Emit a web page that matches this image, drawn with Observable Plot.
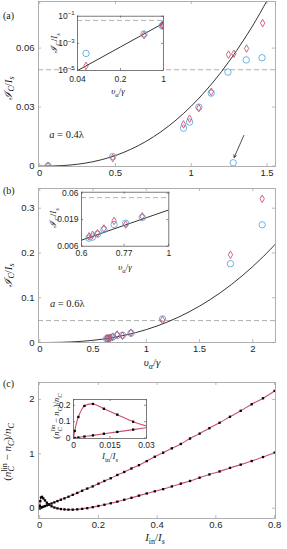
<!DOCTYPE html>
<html><head><meta charset="utf-8">
<script src="https://cdn.jsdelivr.net/npm/d3@7"></script>
<script src="https://cdn.jsdelivr.net/npm/@observablehq/plot@0.6"></script>
<style>
body{margin:0;background:#fff}
#root{position:relative;width:287px;height:549px;overflow:hidden;background:#fff}
#root svg{position:absolute;overflow:visible;max-width:none}
</style></head><body><div id="root"></div>
<script>
// ---------- Panel (a) data ----------
const aCircX = [0.055, 0.482, 0.949, 0.989, 1.05, 1.132, 1.242, 1.277, 1.363, 1.467];
const aCircY = [0.00018, 0.0049, 0.0193, 0.0224, 0.0300, 0.0371, 0.0478, 0.0017, 0.0540, 0.0551];
const aDiamX = [0.055, 0.482, 0.949, 0.989, 1.05, 1.132, 1.246, 1.281, 1.365, 1.471];
const aDiamY = [0.000022, 0.0041, 0.0212, 0.0241, 0.0295, 0.0378, 0.0567, 0.0571, 0.0598, 0.0727];
const aFitX = [0, 0.1, 0.2, 0.3, 0.4, 0.5, 0.6, 0.7, 0.8, 0.9, 1.0, 1.1, 1.2, 1.3, 1.4, 1.5, 1.55];
const aFitY = [0, 0.0000965, 0.000546, 0.0015, 0.00309, 0.00539, 0.0085, 0.0125, 0.01746, 0.02344, 0.0305, 0.0387, 0.0481, 0.0588, 0.0707, 0.0841, 0.0912];
const aInsetLineX = [0.04, 0.2, 1];
const aInsetLineY = [0.0000098, 0.000546, 0.0305];
const aXTicks = [0, 0.5, 1, 1.5];
const aYTicks = [0, 0.03, 0.06];
const aInsetXTicks = [0.04, 0.2, 1];
const aInsetYTicks = [1e-5, 1e-3, 1e-1];
const aArrowFrom = [1.347, 0.0156];
const aArrowTo = [1.283, 0.0044];
const aTextPos = [0.066, 0.0156];
const aText = "0.4λ";

// ---------- Panel (b) data ----------
const bCircX = [0.627, 0.640, 0.659, 0.684, 0.726, 0.777, 0.856, 1.152, 1.79, 2.088];
const bCircY = [0.0085, 0.0089, 0.0101, 0.0123, 0.0153, 0.0162, 0.0207, 0.0526, 0.176, 0.263];
const bDiamX = [0.627, 0.640, 0.659, 0.684, 0.726, 0.777, 0.856, 1.152, 1.79, 2.088];
const bDiamY = [0.0092, 0.0098, 0.0105, 0.0129, 0.0179, 0.0153, 0.0219, 0.0503, 0.196, 0.321];
const bFitX = [0, 0.1, 0.2, 0.3, 0.4, 0.5, 0.6, 0.7, 0.8, 0.9, 1.0, 1.1, 1.2, 1.3, 1.4, 1.5, 1.6, 1.7, 1.8, 1.9, 2.0, 2.1, 2.2, 2.25];
const bFitY = [0, 0.0000793, 0.000468, 0.00132, 0.00276, 0.00488, 0.00779, 0.01156, 0.01627, 0.02199, 0.0288, 0.03676, 0.04593, 0.05637, 0.06816, 0.08132, 0.09593, 0.1120, 0.1297, 0.1489, 0.1698, 0.1924, 0.2168, 0.2296];
const bInsetLineX = [0.6, 0.8, 1];
const bInsetLineY = [0.00779, 0.01627, 0.0288];
const bXTicks = [0, 0.5, 1, 1.5, 2];
const bYTicks = [0, 0.1, 0.2, 0.3];
const bInsetXTicks = [0.6, 0.77, 1];
const bInsetYTicks = [0.006, 0.019, 0.06];
const bTextPos = [0.1, 0.087];
const bText = "0.6λ";

const dashLevel = 0.049;

// ---------- Panel (c) data ----------
const cX = [0, 0.0005, 0.002, 0.0045, 0.008, 0.0125, 0.018, 0.0245, 0.032, 0.0405, 0.05, 0.0605, 0.072, 0.0845, 0.098, 0.1125, 0.128, 0.1445, 0.162, 0.1805, 0.2, 0.2205, 0.242, 0.2645, 0.288, 0.3125, 0.338, 0.3645, 0.392, 0.4205, 0.45, 0.4805, 0.512, 0.5445, 0.578, 0.6125, 0.648, 0.6845, 0.722, 0.7605, 0.8];
const cUpper = [0, 0.001, 0.004, 0.01, 0.017, 0.027, 0.038, 0.052, 0.068, 0.086, 0.107, 0.13, 0.155, 0.18, 0.21, 0.245, 0.28, 0.32, 0.36, 0.40, 0.45, 0.50, 0.55, 0.61, 0.665, 0.73, 0.79, 0.865, 0.945, 1.02, 1.10, 1.18, 1.28, 1.37, 1.47, 1.57, 1.68, 1.79, 1.91, 2.02, 2.155];
const cLower = [0, 0.044, 0.129, 0.196, 0.208, 0.179, 0.143, 0.10, 0.065, 0.035, 0.012, -0.004, -0.016, -0.023, -0.027, -0.027, -0.022, -0.013, 0.0, 0.018, 0.04, 0.063, 0.09, 0.12, 0.155, 0.19, 0.23, 0.27, 0.31, 0.35, 0.40, 0.45, 0.50, 0.56, 0.62, 0.675, 0.74, 0.80, 0.866, 0.94, 1.02];
const cXTicks = [0, 0.2, 0.4, 0.6, 0.8];
const cYTicks = [0, 1, 2];
const cInsetXTicks = [0, 0.015, 0.03];
const cInsetYTicks = [0, 0.1, 0.2];

// ---------- styling ----------
const W = 287, ML = 38, MR = 12;
const sans = "'Liberation Sans', Arial, sans-serif";
const serif = "'Liberation Serif', 'DejaVu Serif', serif";
const ink = "#262626", frameCol = "#9c9c9c", insetFrame = "#5a5a5a", dashCol = "#a8a8a8";
const blue = "#4aa0dd", red = "#c8405c", lineRed = "#cc4f6c", curveCol = "#1e1e1e";
const root = document.getElementById("root");

function place(svg, left, top) {
  svg.style.left = left + "px"; svg.style.top = top + "px";
  root.appendChild(svg); return svg;
}
function tickMarks(xt, yt, fw, fh, len, col) {
  return [
    Plot.tickX(xt, {x: d => d, insetTop: fh - len, stroke: col, strokeWidth: 0.7}),
    Plot.tickX(xt, {x: d => d, insetBottom: fh - len, stroke: col, strokeWidth: 0.7}),
    Plot.tickY(yt, {y: d => d, insetRight: fw - len, stroke: col, strokeWidth: 0.7}),
    Plot.tickY(yt, {y: d => d, insetLeft: fw - len, stroke: col, strokeWidth: 0.7})
  ];
}
function tickLabels(xt, yt, xfmt, yfmt, xpad, ypad, size) {
  return [
    Plot.text(xt, {x: d => d, text: xfmt, frameAnchor: "bottom", lineAnchor: "top", dy: xpad, fontSize: size, fill: ink}),
    Plot.text(yt, {y: d => d, text: yfmt, frameAnchor: "left", textAnchor: "end", dx: -ypad, fontSize: size, fill: ink})
  ];
}
function mainPanel({top, height, mt, mb, x, y, xt, yt, marks}) {
  const fw = W - ML - MR, fh = height - mt - mb;
  const p = Plot.plot({
    width: W, height, marginLeft: ML, marginRight: MR, marginTop: mt, marginBottom: mb,
    style: {fontFamily: sans, fontSize: "9.5px", color: ink, background: "transparent"},
    x: {...x, axis: null}, y: {...y, axis: null},
    marks: [
      ...marks,
      ...tickMarks(xt, yt, fw, fh, 3, frameCol),
      ...tickLabels(xt, yt, d => String(d), d => String(d), 3, 4, 9.5),
      Plot.frame({stroke: frameCol, strokeWidth: 0.8})
    ]
  });
  return place(p, 0, top);
}
function insetPanel({left, top, width, height, ml, mr, mt, mb, x, y, xt, yt, xfmt, yfmt, marks, xpad = 3}) {
  const fw = width - ml - mr, fh = height - mt - mb;
  const p = Plot.plot({
    width, height, marginLeft: ml, marginRight: mr, marginTop: mt, marginBottom: mb,
    style: {fontFamily: sans, fontSize: "8.5px", color: ink, background: "transparent"},
    x: {...x, axis: null}, y: {...y, axis: null},
    marks: [
      Plot.frame({fill: "white", stroke: "none"}),
      ...marks,
      ...tickMarks(xt, yt, fw, fh, 2, insetFrame),
      ...tickLabels(xt, yt, xfmt, yfmt, xpad, 3, 8.5),
      Plot.frame({stroke: insetFrame, strokeWidth: 0.8})
    ]
  });
  return place(p, left, top);
}
const dotsCircle = (X, Y) => Plot.dot(Y, {x: X, y: Y, r: 3.2, stroke: blue, strokeWidth: 0.8, clip: true});
const dotsDiamond = (X, Y) => Plot.dot(Y, {x: X, y: Y, r: 2.3, symbol: "diamond", stroke: red, strokeWidth: 0.8, clip: true});

// ---------- Panel (a) ----------
const aTop = 0;
const plotA = mainPanel({
  top: aTop, height: 180, mt: 1, mb: 14,
  x: {domain: [-0.008, 1.556]}, y: {domain: [-0.0002, 0.0837]},
  xt: aXTicks, yt: aYTicks,
  marks: [
    Plot.ruleY([dashLevel], {stroke: dashCol, strokeWidth: 0.9, strokeDasharray: "5,3"}),
    Plot.line(aFitY, {x: aFitX, y: aFitY, stroke: curveCol, strokeWidth: 0.9, curve: "catmull-rom", clip: true}),
    dotsCircle(aCircX, aCircY),
    dotsDiamond(aDiamX, aDiamY),
    Plot.arrow([0], {x1: () => aArrowFrom[0], y1: () => aArrowFrom[1], x2: () => aArrowTo[0], y2: () => aArrowTo[1], stroke: "#222", strokeWidth: 0.8, headLength: 5})
  ]
});
const plotAi = insetPanel({
  left: 50, top: 8, width: 120, height: 92, ml: 27, mr: 7, mt: 7.7, mb: 30, xpad: 5,
  x: {type: "log", domain: [0.04, 1]}, y: {type: "log", domain: [1e-5, 1e-1]},
  xt: aInsetXTicks, yt: aInsetYTicks,
  xfmt: d => String(d), yfmt: d => "10^" + Math.round(Math.log10(d)),
  marks: [
    Plot.ruleY([dashLevel], {stroke: dashCol, strokeWidth: 0.9, strokeDasharray: "5,3"}),
    Plot.line(aInsetLineY, {x: aInsetLineX, y: aInsetLineY, stroke: curveCol, strokeWidth: 0.9, clip: true}),
    dotsCircle(aCircX, aCircY),
    dotsDiamond(aDiamX, aDiamY)
  ]
});

// ---------- Panel (b) ----------
const bTop = 178;
const plotB = mainPanel({
  top: bTop, height: 192, mt: 10, mb: 28,
  x: {domain: [-0.012, 2.213]}, y: {domain: [0, 0.344]},
  xt: bXTicks, yt: bYTicks,
  marks: [
    Plot.ruleY([dashLevel], {stroke: dashCol, strokeWidth: 0.9, strokeDasharray: "5,3"}),
    Plot.line(bFitY, {x: bFitX, y: bFitY, stroke: curveCol, strokeWidth: 0.9, curve: "catmull-rom", clip: true}),
    dotsCircle(bCircX, bCircY),
    dotsDiamond(bDiamX, bDiamY)
  ]
});
const plotBi = insetPanel({
  left: 52, top: 185, width: 122, height: 88, ml: 29, mr: 5.7, mt: 6.7, mb: 27.3, xpad: 4,
  x: {type: "log", domain: [0.6, 1]}, y: {type: "log", domain: [0.006, 0.062]},
  xt: bInsetXTicks, yt: bInsetYTicks,
  xfmt: d => String(d), yfmt: d => String(d),
  marks: [
    Plot.ruleY([dashLevel], {stroke: dashCol, strokeWidth: 0.9, strokeDasharray: "5,3"}),
    Plot.line(bInsetLineY, {x: bInsetLineX, y: bInsetLineY, stroke: curveCol, strokeWidth: 0.9, clip: true}),
    dotsCircle(bCircX, bCircY),
    dotsDiamond(bDiamX, bDiamY)
  ]
});

// ---------- Panel (c) ----------
const cTop = 370;
const cMarks = (r) => [
  Plot.line(cUpper, {x: cX, y: cUpper, stroke: lineRed, strokeWidth: 1.1, curve: "catmull-rom", clip: true}),
  Plot.line(cLower, {x: cX, y: cLower, stroke: lineRed, strokeWidth: 1.1, curve: "catmull-rom", clip: true}),
  Plot.dot(cUpper, {x: cX, y: cUpper, symbol: "square", r, fill: "#000", clip: true}),
  Plot.dot(cLower, {x: cX, y: cLower, symbol: "square", r, fill: "#000", clip: true})
];
const plotC = mainPanel({
  top: cTop, height: 179, mt: 12, mb: 31,
  x: {domain: [-0.004, 0.803]}, y: {domain: [-0.19, 2.31]},
  xt: cXTicks, yt: cYTicks,
  marks: cMarks(1.3)
});
const plotCi = insetPanel({
  left: 52, top: 392, width: 100, height: 72, ml: 21, mr: 6, mt: 7, mb: 26,
  x: {domain: [0, 0.03]}, y: {domain: [-0.002, 0.235]},
  xt: cInsetXTicks, yt: cInsetYTicks,
  xfmt: d => String(d), yfmt: d => String(d),
  marks: cMarks(1.3)
});

// superscript log tick labels in inset (a)
d3.select(plotAi).selectAll("text").each(function () {
  const t = this.textContent;
  if (t.startsWith("10^")) {
    const e = t.slice(3).replace("-", "−");
    this.innerHTML = '10<tspan dy="-3.5" font-size="6">' + e + '</tspan>';
  }
});

// ---------- text overlay ----------
const ov = d3.create("svg").attr("width", W).attr("height", 549)
  .style("left", "0px").style("top", "0px")
  .attr("font-family", serif).attr("fill", "#1a1a1a");
root.appendChild(ov.node());

function txt(x, y, html, {size = 11, rotate = false, anchor = "middle"} = {}) {
  const t = ov.append("text").attr("font-size", size).attr("text-anchor", anchor)
    .attr("transform", `translate(${x},${y})` + (rotate ? " rotate(-90)" : ""));
  t.html(html);
  return t;
}
const IC = (s, sub) => `<tspan font-style="italic">ℐ</tspan><tspan font-size="${sub}" dy="2.5" font-style="italic">C</tspan><tspan dy="-2.5">/</tspan><tspan font-style="italic">I</tspan><tspan font-size="${sub}" dy="2.5" font-style="italic">s</tspan>`;
const UA = (sub) => `<tspan font-style="italic">υ</tspan><tspan font-size="${sub}" dy="2.5" font-style="italic">α</tspan><tspan dy="-2.5">/</tspan><tspan font-style="italic">γ</tspan>`;
const IIN = (sub) => `<tspan font-style="italic">I</tspan><tspan font-size="${sub}" dy="2.5">in</tspan><tspan dy="-2.5">/</tspan><tspan font-style="italic">I</tspan><tspan font-size="${sub}" dy="2.5" font-style="italic">s</tspan>`;
const NLIN = (sub, back) => `(<tspan font-style="italic">n</tspan><tspan font-size="${sub}" dy="-4">lin</tspan><tspan font-size="${sub}" font-style="italic" dx="${-back}" dy="6.5">C</tspan><tspan dy="-2.5" dx="${back * 0.35}"> − </tspan><tspan font-style="italic">n</tspan><tspan font-size="${sub}" dy="2.5" font-style="italic">C</tspan><tspan dy="-2.5">)/</tspan><tspan font-style="italic">n</tspan><tspan font-size="${sub}" dy="2.5" font-style="italic">C</tspan>`;

// panel letters
txt(3, 18.5, "(a)", {size: 10, anchor: "start"});
txt(3, 193.5, "(b)", {size: 10, anchor: "start"});
txt(3, 387, "(c)", {size: 10, anchor: "start"});
// main axis labels
txt(11.5, 88, IC(11, 8), {size: 11, rotate: true});
txt(11.5, 275, IC(11, 8), {size: 11, rotate: true});
txt(152, 366, UA(8), {size: 11});
txt(11, 452, NLIN(8, 8.4), {size: 11, rotate: true});
txt(155, 541, IIN(8), {size: 11});
// inset labels
txt(57, 43, IC(9, 6.5), {size: 9, rotate: true});
txt(118, 94, UA(6.5), {size: 9});
txt(56, 218, IC(9, 6.5), {size: 9, rotate: true});
txt(125, 270, UA(6.5), {size: 9});
txt(59, 416, NLIN(6.5, 6.8), {size: 8.5, rotate: true});
txt(110, 459, IIN(6.5), {size: 9});
// a = ... annotations (positioned with the panels' scales)
const sxA = plotA.scale("x"), syA = plotA.scale("y");
txt(sxA.apply(aTextPos[0]), aTop + syA.apply(aTextPos[1]) + 3.5, `<tspan font-style="italic">a</tspan> = ${aText}`, {size: 10.5, anchor: "start"});
const sxB = plotB.scale("x"), syB = plotB.scale("y");
txt(sxB.apply(bTextPos[0]), bTop + syB.apply(bTextPos[1]) + 3.5, `<tspan font-style="italic">a</tspan> = ${bText}`, {size: 10.5, anchor: "start"});
</script>
</body></html>
